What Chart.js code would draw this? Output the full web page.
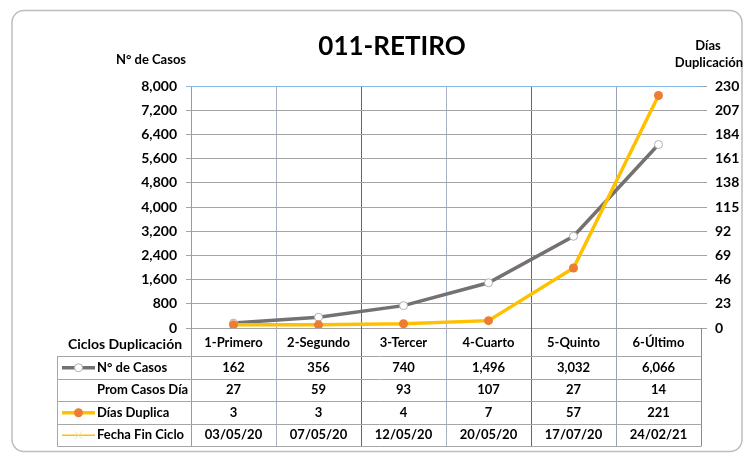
<!DOCTYPE html>
<html>
<head>
<meta charset="utf-8">
<script src="https://cdn.jsdelivr.net/npm/chart.js@4/dist/chart.umd.min.js"></script>
<style>
html,body{margin:0;padding:0;background:#fff;}
canvas{display:block;}
</style>
</head>
<body>
<canvas id="c" width="744" height="456"></canvas>
<script>
const title = '011-RETIRO';
const categories = ['1-Primero','2-Segundo','3-Tercer','4-Cuarto','5-Quinto','6-Último'];
const casos = [162, 356, 740, 1496, 3032, 6066];
const promCasosDia = [27, 59, 93, 107, 27, 14];
const diasDuplica = [3, 3, 4, 7, 57, 221];
const fechaFinCiclo = ['03/05/20','07/05/20','12/05/20','20/05/20','17/07/20','24/02/21'];
const rowLabels = ['N° de Casos','Prom Casos Día','Días Duplica','Fecha Fin Ciclo'];
const leftAxisTitle = 'N° de Casos';
const rightAxisTitle = ['Días','Duplicación'];
const tableHeader = 'Ciclos Duplicación';
const leftTicks = {min:0, max:8000, step:800};
const rightTicks = {min:0, max:230, step:23};

const FONT = 'Lato, "Open Sans", sans-serif';
const vColors = ['#9a9a9a','#aab2c5','#5f6678','#aab2c5','#5f6678','#9aa3b5','#8a8a8a'];

const tablePlugin = {
  id: 'tablePlugin',
  beforeDraw(chart) {
    const ctx = chart.ctx;
    ctx.save();
    ctx.fillStyle = '#fff';
    ctx.fillRect(0,0,chart.width,chart.height);
    // outer frame
    ctx.strokeStyle = '#bdbdbd';
    ctx.lineWidth = 1.5;
    ctx.beginPath();
    ctx.roundRect(12, 10.5, 730, 441, 12);
    ctx.stroke();
    ctx.restore();
  },
  afterDraw(chart) {
    const ctx = chart.ctx;
    const ca = chart.chartArea;
    const xs = chart.scales.x;
    const n = categories.length;
    const colW = (ca.right - ca.left) / n;
    const tableTop = 356, rowH = 22.5, tableLeft = 57.5;
    const tableBottom = tableTop + rowH * 4;
    ctx.save();
    // titles
    ctx.fillStyle = '#000';
    ctx.textAlign = 'center';
    ctx.textBaseline = 'alphabetic';
    ctx.font = 'bold 26px ' + FONT;
    ctx.fillText(title, 392, 55);
    ctx.font = 'bold 13px ' + FONT;
    ctx.fillText(leftAxisTitle, 151, 64);
    ctx.fillText(rightAxisTitle[0], 708, 50);
    ctx.fillText(rightAxisTitle[1], 709, 67);

    // vertical lines extended through table
    for (let i = 0; i <= n; i++) {
      const x = Math.round(ca.left + i * colW) + 0.5;
      ctx.strokeStyle = vColors[i % vColors.length];
      ctx.lineWidth = 1;
      ctx.beginPath();
      ctx.moveTo(x, ca.bottom);
      ctx.lineTo(x, tableBottom);
      ctx.stroke();
    }
    // table horizontal lines
    ctx.strokeStyle = '#a6a6a6';
    ctx.lineWidth = 1;
    for (let r = 0; r <= 4; r++) {
      const y = Math.round(tableTop + r * rowH) + 0.5;
      ctx.beginPath();
      ctx.moveTo(tableLeft, y);
      ctx.lineTo(ca.right + 0.5, y);
      ctx.stroke();
    }
    ctx.beginPath();
    ctx.moveTo(tableLeft, tableTop);
    ctx.lineTo(tableLeft, tableBottom + 0.5);
    ctx.stroke();

    // header row
    ctx.fillStyle = '#000';
    ctx.textAlign = 'center';
    ctx.textBaseline = 'middle';
    ctx.font = 'bold 14px ' + FONT;
    ctx.fillText(tableHeader, 125, 344);
    ctx.font = 'bold 13px ' + FONT;
    categories.forEach((c, i) => {
      ctx.fillText(c, xs.getPixelForValue(i), 343);
    });
    // data rows
    const rows = [
      casos.map(v => v.toLocaleString('en-US')),
      promCasosDia.map(String),
      diasDuplica.map(String),
      fechaFinCiclo
    ];
    rows.forEach((row, r) => {
      const yc = tableTop + r * rowH + rowH / 2 + 0.5;
      ctx.textAlign = 'left';
      ctx.fillText(rowLabels[r], 97, yc);
      ctx.textAlign = 'center';
      row.forEach((v, i) => ctx.fillText(v, xs.getPixelForValue(i), yc));
    });

    // legend keys
    const lx0 = 62, lx1 = 95, lxm = 78.5;
    let y = tableTop + rowH * 0.5 + 0.5;
    ctx.strokeStyle = '#767171'; ctx.lineWidth = 3.5;
    ctx.beginPath(); ctx.moveTo(lx0, y); ctx.lineTo(lx1, y); ctx.stroke();
    ctx.fillStyle = '#fff'; ctx.strokeStyle = '#b0b0b0'; ctx.lineWidth = 1;
    ctx.beginPath(); ctx.arc(lxm, y, 4, 0, Math.PI * 2); ctx.fill(); ctx.stroke();

    y = tableTop + rowH * 2.5 + 0.5;
    ctx.strokeStyle = '#FFC000'; ctx.lineWidth = 3.5;
    ctx.beginPath(); ctx.moveTo(lx0, y); ctx.lineTo(lx1, y); ctx.stroke();
    ctx.fillStyle = '#ED7D31';
    ctx.beginPath(); ctx.arc(lxm, y, 4.5, 0, Math.PI * 2); ctx.fill();

    y = tableTop + rowH * 3.5 + 0.5;
    ctx.strokeStyle = '#FFC000'; ctx.lineWidth = 1.5;
    ctx.beginPath(); ctx.moveTo(lx0, y); ctx.lineTo(lx1, y); ctx.stroke();
    ctx.strokeStyle = '#FFE08A'; ctx.lineWidth = 1;
    ctx.beginPath();
    ctx.moveTo(lxm - 4, y - 4); ctx.lineTo(lxm + 4, y + 4);
    ctx.moveTo(lxm + 4, y - 4); ctx.lineTo(lxm - 4, y + 4);
    ctx.stroke();
    ctx.restore();
  }
};

new Chart(document.getElementById('c'), {
  type: 'line',
  data: {
    labels: categories,
    datasets: [
      {
        label: rowLabels[0],
        data: casos,
        yAxisID: 'y',
        borderColor: '#767171',
        borderWidth: 3.5,
        pointRadius: 4,
        pointBackgroundColor: '#ffffff',
        pointBorderColor: '#b0b0b0',
        pointBorderWidth: 1,
        tension: 0,
        order: 1
      },
      {
        label: rowLabels[2],
        data: diasDuplica,
        yAxisID: 'y1',
        borderColor: '#FFC000',
        borderWidth: 3.5,
        pointRadius: 4.5,
        pointBackgroundColor: '#ED7D31',
        pointBorderColor: '#ED7D31',
        pointBorderWidth: 0,
        tension: 0,
        order: 0
      }
    ]
  },
  options: {
    responsive: false,
    animation: false,
    devicePixelRatio: 1,
    layout: { padding: { top: 86, bottom: 0, left: 0, right: 0 } },
    plugins: { legend: { display: false }, tooltip: { enabled: false }, title: { display: false } },
    scales: {
      x: {
        type: 'category',
        offset: true,
        grid: {
          offset: true,
          drawTicks: false,
          color: ctx => vColors[ctx.index % vColors.length],
          lineWidth: 1
        },
        border: { display: false },
        ticks: { display: false },
        afterFit: s => { s.height = 128; }
      },
      y: {
        position: 'left',
        min: leftTicks.min, max: leftTicks.max,
        ticks: {
          stepSize: leftTicks.step,
          color: '#000',
          padding: 9,
          font: { family: FONT, size: 14, weight: 'bold' },
          callback: v => Number(v).toLocaleString('en-US')
        },
        grid: {
          color: ctx => (ctx.tick && ctx.tick.value === leftTicks.max) ? '#86b8e8' : '#a3a3a3',
          lineWidth: 1,
          tickLength: 5
        },
        border: { display: false },
        afterFit: s => { s.width = 191; }
      },
      y1: {
        position: 'right',
        min: rightTicks.min, max: rightTicks.max,
        ticks: {
          stepSize: rightTicks.step,
          color: '#000',
          padding: 8,
          font: { family: FONT, size: 14, weight: 'bold' }
        },
        grid: { drawOnChartArea: false, color: '#a3a3a3', tickLength: 6 },
        border: { display: false },
        afterFit: s => { s.width = 43; }
      }
    }
  },
  plugins: [tablePlugin]
});
</script>
</body>
</html>
